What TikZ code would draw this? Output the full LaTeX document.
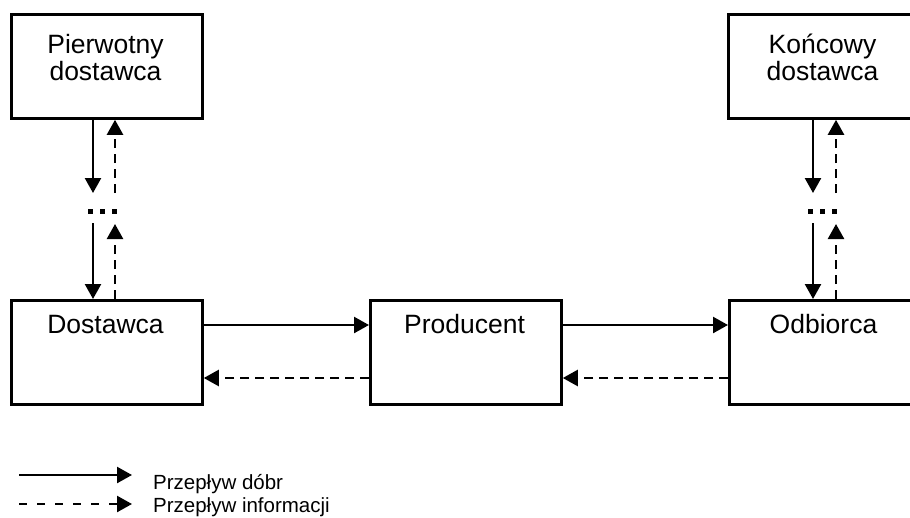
\documentclass[tikz,border=0pt]{standalone}
\usepackage{fontspec}
\setmainfont{Liberation Sans}
\usetikzlibrary{arrows.meta,calc}
\begin{document}
\begin{tikzpicture}[x=1pt,y=-1pt,
  box/.style={draw, line width=2.8pt, minimum width=191pt, minimum height=104pt, inner sep=0pt, anchor=north west},
  lbl/.style={font=\fontsize{26.5}{27}\selectfont, align=center, inner sep=0pt, anchor=base},
  goods/.style={line width=2.4pt, -{Triangle[length=15pt,width=16pt]}},
  info/.style={goods, dash pattern=on 9pt off 6pt},
  infolegend/.style={goods, dash pattern=on 8pt off 10pt},
  dots/.style={line width=5pt, dash pattern=on 5pt off 7pt},
  legend/.style={font=\fontsize{20.5}{25}\selectfont, align=left, inner sep=0pt, anchor=base west}
]
\useasboundingbox (0,0) rectangle (910,517);
\clip (0,0) rectangle (910,517);

% boxes
\node[box] (pd) at (10,13) {};
\node[box] (kd) at (727,13) {};
\node[box] (dost) at (10,299) {};
\node[box] (prod) at (369,299) {};
\node[box] (odb) at (728,299) {};

% labels (base = baseline of last line)
\node[lbl] (tpd) at (105.5,80) {Pierwotny\\dostawca};
\node[lbl] (tkd) at (822.5,80) {Końcowy\\dostawca};
\node[lbl] (tdost) at (105.5,333) {Dostawca};
\node[lbl] (tprod) at (464.5,333) {Producent};
\node[lbl] (todb) at (823.5,333) {Odbiorca};

% left vertical chain
\coordinate (la) at (93,193);
\coordinate (lb) at (93,223);
\coordinate (lc) at (115,193);
\coordinate (ld) at (115,224);
\draw[goods] (pd.south -| la) -- (la);
\draw[goods] (lb) -- (dost.north -| lb);
\draw[info] (lc) -- (pd.south -| lc);
\draw[info] (dost.north -| ld) -- (ld);
\coordinate (ldot1) at (88,211);
\coordinate (ldot2) at (118,211);
\draw[dots] (ldot1) -- (ldot2);

% right vertical chain
\coordinate (ra) at (813,193);
\coordinate (rb) at (813,223);
\coordinate (rc) at (836,193);
\coordinate (rd) at (836,224);
\draw[goods] (kd.south -| ra) -- (ra);
\draw[goods] (rb) -- (odb.north -| rb);
\draw[info] (rc) -- (kd.south -| rc);
\draw[info] (odb.north -| rd) -- (rd);
\coordinate (rdot1) at (808,211);
\coordinate (rdot2) at (838,211);
\draw[dots] (rdot1) -- (rdot2);

% horizontal flows
\coordinate (hg) at (0,325);
\coordinate (hi) at (0,378);
\draw[goods] (dost.east |- hg) -- (prod.west |- hg);
\draw[goods] (prod.east |- hg) -- (odb.west |- hg);
\draw[info] (prod.west |- hi) -- (dost.east |- hi);
\draw[info] (odb.west |- hi) -- (prod.east |- hi);

% legend
\coordinate (g0) at (19,475);
\coordinate (g1) at (132,475);
\coordinate (i0) at (19,504);
\coordinate (i1) at (132,504);
\draw[goods] (g0) -- (g1);
\draw[infolegend] (i0) -- (i1);
\node[legend] (leg) at (153,489) {Przepływ dóbr};
\node[legend] (leg2) at (153,512) {Przepływ informacji};
\end{tikzpicture}
\end{document}
